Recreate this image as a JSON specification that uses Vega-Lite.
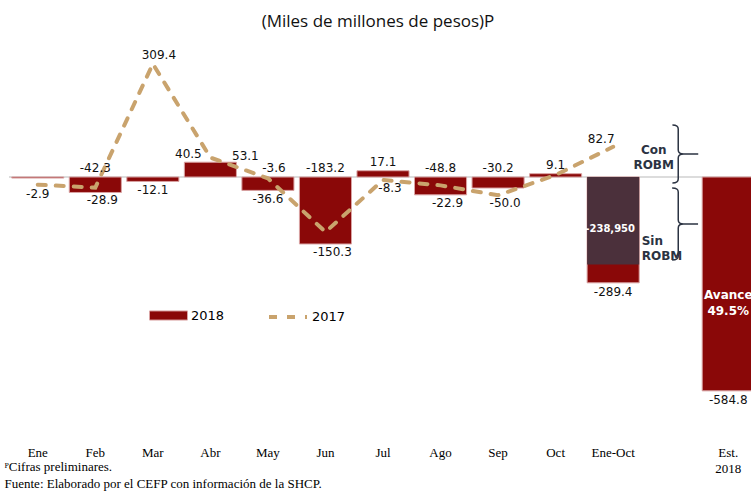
{
  "$schema": "https://vega.github.io/schema/vega-lite/v6.json",
  "width": 748,
  "height": 384,
  "autosize": {"type": "none"},
  "padding": {"left": 9, "top": 49, "right": 0, "bottom": 58},
  "background": "white",
  "config": {"view": {"stroke": null}, "font": "DejaVu Sans", "locale": {"number": {"decimal": ".", "thousands": ",", "grouping": [3], "currency": ["$", ""], "minus": "-"}}},
  "title": {"text": "(Miles de millones de pesos)P", "font": "Open Sans", "fontSize": 17, "fontWeight": "normal", "color": "#111111", "offset": 18, "dx": -5},
  "data": {"values": [
    {"mes": "Ene", "v2018": -2.9, "v2017": -21, "lado18": "abajo", "lado17": null},
    {"mes": "Feb", "v2018": -42.3, "v2017": -28.9, "lado18": "arriba", "lado17": "abajo"},
    {"mes": "Mar", "v2018": -12.1, "v2017": 309.4, "lado18": "abajo", "lado17": "arriba"},
    {"mes": "Abr", "v2018": 40.5, "v2017": 53.1, "lado18": "arriba", "lado17": "arriba"},
    {"mes": "May", "v2018": -36.6, "v2017": -3.6, "lado18": "abajo", "lado17": "arriba"},
    {"mes": "Jun", "v2018": -183.2, "v2017": -150.3, "lado18": "arriba", "lado17": "abajo"},
    {"mes": "Jul", "v2018": 17.1, "v2017": -8.3, "lado18": "arriba", "lado17": "abajo"},
    {"mes": "Ago", "v2018": -48.8, "v2017": -22.9, "lado18": "arriba", "lado17": "abajo"},
    {"mes": "Sep", "v2018": -30.2, "v2017": -50.0, "lado18": "arriba", "lado17": "abajo"},
    {"mes": "Oct", "v2018": 9.1, "v2017": 5.5, "lado18": "arriba", "lado17": null},
    {"mes": "Ene-Oct", "v2018": -289.4, "v2017": 82.7, "sin_robm": -238.95, "lado18": "abajo", "lado17": "arriba"},
    {"mes": "Est. 2018", "v2018": -584.8, "v2017": null, "lado18": "abajo", "lado17": null}
  ]},
  "layer": [
    {
      "transform": [{"filter": "datum.mes == 'Ene'"}, {"calculate": "0", "as": "cero"}],
      "mark": {"type": "rule", "color": "#dcdcdc", "strokeWidth": 2},
      "encoding": {"y": {"field": "cero", "type": "quantitative", "axis": null}}
    },
    {
      "transform": [{"calculate": "'2018'", "as": "serie"}],
      "mark": {"type": "bar", "stroke": "#d9a3a3", "strokeWidth": 1},
      "encoding": {
        "x": {
          "field": "mes", "type": "nominal",
          "scale": {"domain": ["Ene", "Feb", "Mar", "Abr", "May", "Jun", "Jul", "Ago", "Sep", "Oct", "Ene-Oct", " ", "Est. 2018"], "paddingInner": 0.095, "paddingOuter": 0.0475},
          "axis": {
            "title": ["ᴾCifras preliminares.", "Fuente: Elaborado por el CEFP con información de la SHCP."],
            "domain": false, "ticks": false, "labelAngle": 0, "labelPadding": 13,
            "labelFont": "Liberation Sans Narrow", "labelFontSize": 13, "labelColor": "#000000", "labelLineHeight": 16,
            "labelExpr": "datum.value == 'Est. 2018' ? ['Est.', '2018'] : datum.value",
            "titleAnchor": "start", "titleAlign": "left", "titleX": -5, "titleY": 27, "titleBaseline": "top",
            "titleFont": "Liberation Sans Narrow", "titleFontSize": 13, "titleFontWeight": "normal", "titleColor": "#000000", "titleLineHeight": 17
          }
        },
        "y": {"field": "v2018", "type": "quantitative", "scale": {"domain": [-700, 350], "nice": false, "zero": false}, "axis": null},
        "color": {"field": "serie", "type": "nominal", "scale": {"domain": ["2018"], "range": ["#8a0808"]},
          "legend": {"orient": "none", "legendX": 140, "legendY": 247, "title": null, "symbolType": "M-1,-0.24H1V0.24H-1Z", "symbolSize": 1444, "symbolStrokeColor": "#d9a3a3", "symbolStrokeWidth": 1, "labelFont": "DejaVu Sans", "labelFontSize": 13, "labelColor": "#000000", "labelOffset": 3}}
      }
    },
    {
      "mark": {"type": "bar", "fill": "#4b303b"},
      "encoding": {"x": {"field": "mes", "type": "nominal"}, "y": {"field": "sin_robm", "type": "quantitative", "axis": null}}
    },
    {
      "transform": [{"calculate": "'2017'", "as": "serie17"}],
      "mark": {"type": "line", "strokeWidth": 4, "strokeCap": "round", "stroke": "#c9a36d"},
      "encoding": {
        "x": {"field": "mes", "type": "nominal"},
        "y": {"field": "v2017", "type": "quantitative", "axis": null},
        "strokeDash": {"field": "serie17", "type": "nominal", "scale": {"domain": ["2017"], "range": [[8, 10]]},
          "legend": {"orient": "none", "legendX": 258, "legendY": 247, "title": null, "symbolType": "stroke", "symbolSize": 1444, "symbolStrokeWidth": 4, "symbolStrokeColor": "#c9a36d", "labelFont": "DejaVu Sans", "labelFontSize": 13, "labelColor": "#000000", "labelOffset": 3}}
      }
    },
    {
      "transform": [{"filter": "datum.lado18 == 'arriba' && datum.mes != 'Abr'"}, {"calculate": "max(0, datum.v2018)", "as": "anc"}],
      "mark": {"type": "text", "baseline": "bottom", "dy": -2, "fontSize": 12, "color": "#111111"},
      "encoding": {"x": {"field": "mes", "type": "nominal"}, "y": {"field": "anc", "type": "quantitative", "axis": null}, "text": {"field": "v2018", "type": "quantitative", "format": ".1f"}}
    },
    {
      "transform": [{"filter": "datum.mes == 'Abr'"}, {"calculate": "max(0, datum.v2018)", "as": "anc"}],
      "mark": {"type": "text", "baseline": "bottom", "dy": -1, "dx": -22, "fontSize": 12, "color": "#111111"},
      "encoding": {"x": {"field": "mes", "type": "nominal"}, "y": {"field": "anc", "type": "quantitative", "axis": null}, "text": {"field": "v2018", "type": "quantitative", "format": ".1f"}}
    },
    {
      "transform": [{"filter": "datum.lado18 == 'abajo'"}, {"calculate": "min(0, datum.v2018, datum.v2017 == null ? 0 : datum.v2017)", "as": "anc"}],
      "mark": {"type": "text", "baseline": "top", "dy": 4, "fontSize": 12, "color": "#111111"},
      "encoding": {"x": {"field": "mes", "type": "nominal"}, "y": {"field": "anc", "type": "quantitative", "axis": null}, "text": {"field": "v2018", "type": "quantitative", "format": ".1f"}}
    },
    {
      "transform": [{"filter": "datum.lado17 == 'arriba' && (datum.mes == 'Mar' || datum.mes == 'May')"}, {"calculate": "max(0, datum.v2017)", "as": "anc"}],
      "mark": {"type": "text", "baseline": "bottom", "dy": -2, "dx": 6, "fontSize": 12, "color": "#111111"},
      "encoding": {"x": {"field": "mes", "type": "nominal"}, "y": {"field": "anc", "type": "quantitative", "axis": null}, "text": {"field": "v2017", "type": "quantitative", "format": ".1f"}}
    },
    {
      "transform": [{"filter": "datum.mes == 'Abr'"}, {"calculate": "max(0, datum.v2017)", "as": "anc"}],
      "mark": {"type": "text", "baseline": "middle", "dy": -2, "dx": 35, "fontSize": 12, "color": "#111111"},
      "encoding": {"x": {"field": "mes", "type": "nominal"}, "y": {"field": "anc", "type": "quantitative", "axis": null}, "text": {"field": "v2017", "type": "quantitative", "format": ".1f"}}
    },
    {
      "transform": [{"filter": "datum.mes == 'Ene-Oct'"}, {"calculate": "max(0, datum.v2017)", "as": "anc"}],
      "mark": {"type": "text", "baseline": "bottom", "dy": -1, "dx": -12, "fontSize": 12, "color": "#111111"},
      "encoding": {"x": {"field": "mes", "type": "nominal"}, "y": {"field": "anc", "type": "quantitative", "axis": null}, "text": {"field": "v2017", "type": "quantitative", "format": ".1f"}}
    },
    {
      "transform": [{"filter": "datum.lado17 == 'abajo'"}, {"calculate": "min(0, datum.v2017, datum.v2018)", "as": "anc"}],
      "mark": {"type": "text", "baseline": "top", "dy": 3, "dx": 7, "fontSize": 12, "color": "#111111"},
      "encoding": {"x": {"field": "mes", "type": "nominal"}, "y": {"field": "anc", "type": "quantitative", "axis": null}, "text": {"field": "v2017", "type": "quantitative", "format": ".1f"}}
    },
    {
      "transform": [{"filter": "datum.sin_robm != null"}, {"calculate": "replace(format(datum.sin_robm * 1000, ',.0f'), '\u2212', '-')", "as": "etq"}, {"calculate": "-143", "as": "anc"}],
      "mark": {"type": "text", "baseline": "middle", "dx": -3, "fontSize": 10, "fontWeight": "bold", "color": "#ffffff"},
      "encoding": {"x": {"field": "mes", "type": "nominal"}, "y": {"field": "anc", "type": "quantitative", "axis": null}, "text": {"field": "etq", "type": "nominal"}}
    },
    {
      "transform": [{"filter": "datum.mes == 'Est. 2018'"}, {"calculate": "-322", "as": "anc"}],
      "mark": {"type": "text", "baseline": "middle", "fontSize": 12, "fontWeight": "bold", "color": "#ffffff", "lineHeight": 16, "text": ["Avance", "49.5%"]},
      "encoding": {"x": {"field": "mes", "type": "nominal"}, "y": {"field": "anc", "type": "quantitative", "axis": null}}
    },
    {
      "transform": [{"filter": "datum.mes == 'Ene-Oct'"}, {"calculate": "' '", "as": "hueco"}, {"calculate": "74", "as": "anc"}],
      "mark": {"type": "text", "baseline": "middle", "align": "center", "dx": -17, "fontSize": 12, "fontWeight": "bold", "color": "#2b3342", "lineHeight": 15, "text": ["Con", "ROBM"]},
      "encoding": {"x": {"field": "hueco", "type": "nominal"}, "y": {"field": "anc", "type": "quantitative", "axis": null}}
    },
    {
      "transform": [{"filter": "datum.mes == 'Ene-Oct'"}, {"calculate": "' '", "as": "hueco"}, {"calculate": "-175", "as": "anc"}],
      "mark": {"type": "text", "baseline": "middle", "align": "left", "dx": -29, "fontSize": 12, "fontWeight": "bold", "color": "#2b3342", "lineHeight": 15, "text": ["Sin", "ROBM"]},
      "encoding": {"x": {"field": "hueco", "type": "nominal"}, "y": {"field": "anc", "type": "quantitative", "axis": null}}
    },
    {
      "transform": [{"filter": "datum.mes == 'Ene-Oct'"}, {"calculate": "' '", "as": "hueco"}, {"calculate": "63", "as": "anc"}],
      "mark": {"type": "point", "filled": false, "opacity": 1, "stroke": "#2b3342", "strokeWidth": 1.5, "size": 3364, "shape": "M0.06,-1 Q0.26,-1 0.26,-0.86 L0.26,-0.14 Q0.26,0 0.45,0 L0.95,0 M0.45,0 Q0.26,0 0.26,0.14 L0.26,0.86 Q0.26,1 0.06,1"},
      "encoding": {"x": {"field": "hueco", "type": "nominal"}, "y": {"field": "anc", "type": "quantitative", "axis": null}}
    },
    {
      "transform": [{"filter": "datum.mes == 'Ene-Oct'"}, {"calculate": "' '", "as": "hueco"}, {"calculate": "-128.4", "as": "anc"}],
      "mark": {"type": "point", "filled": false, "opacity": 1, "stroke": "#2b3342", "strokeWidth": 1.5, "size": 5184, "shape": "M0.04,-1 Q0.21,-1 0.21,-0.89 L0.21,-0.11 Q0.21,0 0.36,0 L0.76,0 M0.36,0 Q0.21,0 0.21,0.11 L0.21,0.89 Q0.21,1 0.04,1"},
      "encoding": {"x": {"field": "hueco", "type": "nominal"}, "y": {"field": "anc", "type": "quantitative", "axis": null}}
    }
  ]
}
